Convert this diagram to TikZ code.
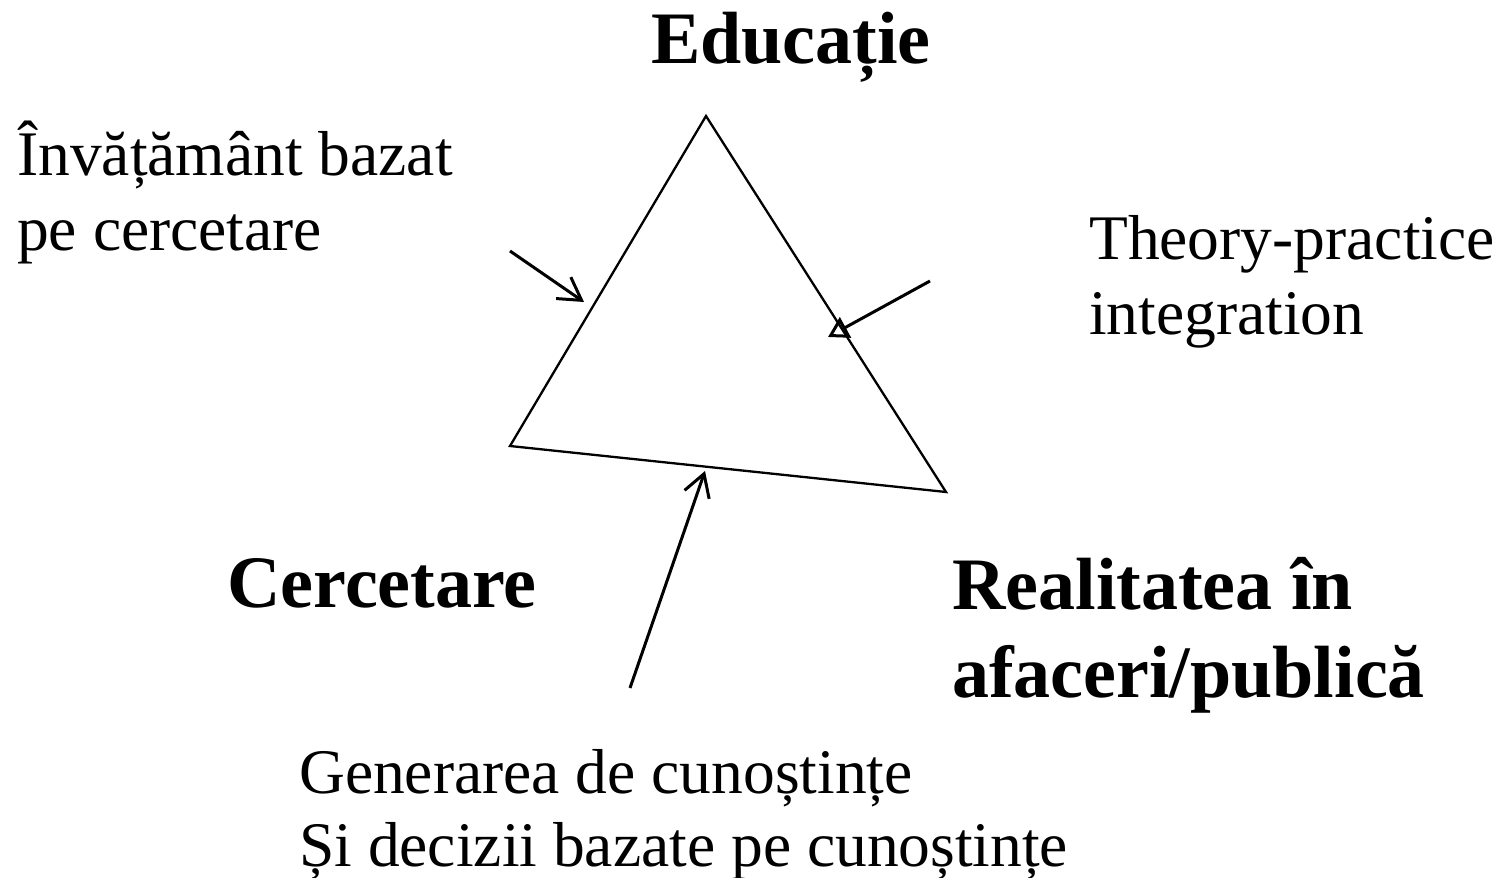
\documentclass[tikz,border=0pt]{standalone}
\usepackage{fontspec}
\setmainfont{Liberation Serif}
\usetikzlibrary{arrows.meta}
\begin{document}
\begin{tikzpicture}[x=1pt,y=-1pt,
  reg/.style={font=\fontsize{63.5}{70}\selectfont, inner sep=0pt, anchor=base west},
  bld/.style={font=\fontsize{74}{82}\selectfont\bfseries, inner sep=0pt, anchor=base west},
  side/.style={line width=2.3pt, line join=miter},
  barb/.style={line width=3pt, -{Straight Barb[length=22pt,width=26pt,line width=3pt]}},
  openhead/.style={line width=3pt, -{Triangle[open,length=20pt,width=23pt,line width=3pt]}}
]
\useasboundingbox (0,0) rectangle (1510,878);
% triangle
\coordinate (top) at (706,116);
\coordinate (bl) at (510,446);
\coordinate (br) at (946,492);
\draw[side] (top) -- (bl) -- (br) -- cycle;
% texts
\node[bld, anchor=base] (edu) at (791,63) {Educație};
\node[reg] (inv1) at (17,175) {Învățământ bazat};
\node[reg] (inv2) at (17,250) {pe cercetare};
\node[reg] (th1) at (1089,259) {Theory-practice};
\node[reg] (th2) at (1089,334) {integration};
\node[bld] (cer) at (227,607) {Cercetare};
\node[bld] (rea1) at (952,609) {Realitatea în};
\node[bld] (rea2) at (952,697) {afaceri/publică};
\node[reg] (gen1) at (299,793) {Generarea de cunoștințe};
\node[reg] (gen2) at (299,866) {Și decizii bazate pe cunoștințe};
% arrows
\coordinate (a1s) at (510,251);
\coordinate (a1e) at (584,302);
\coordinate (a2s) at (930,281);
\coordinate (a2e) at (828,337);
\coordinate (a3s) at (630,688);
\coordinate (a3e) at (705,471);
\draw[barb] (a1s) -- (a1e);
\draw[openhead] (a2s) -- (a2e);
\draw[barb] (a3s) -- (a3e);
\end{tikzpicture}
\end{document}
